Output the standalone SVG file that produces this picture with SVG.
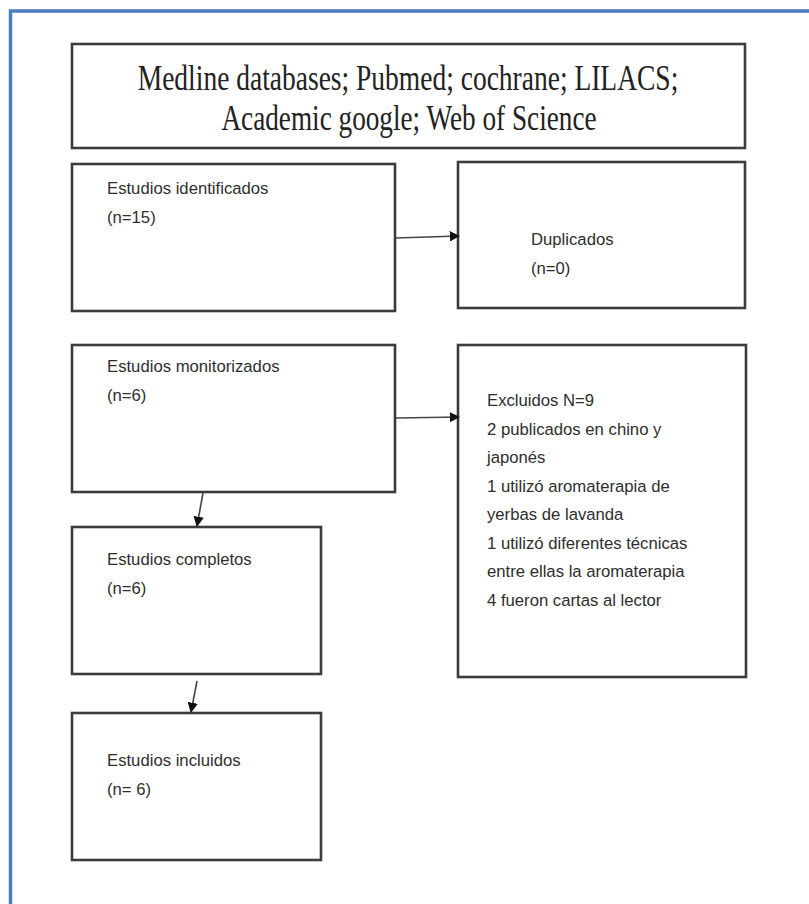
<svg xmlns="http://www.w3.org/2000/svg" width="809" height="904" viewBox="0 0 809 904">
<defs>
<style>
.frame{fill:none;stroke:#4a7ebf;stroke-width:3.5}
.box{fill:#fff;stroke:#3c3c3c;stroke-width:2.6}
.t{font-family:"Liberation Sans",Arial,sans-serif;font-size:16.7px;fill:#2e2e2e}
.h{font-family:"Liberation Serif","Times New Roman",serif;font-size:27.5px;fill:#222}
.c{fill:none;stroke:#444;stroke-width:1.6}
</style>
<marker id="ah" viewBox="0 0 10 10" refX="9" refY="5" markerWidth="6.5" markerHeight="6.5" orient="auto" markerUnits="strokeWidth">
<path d="M0,0 L10,5 L0,10 z" fill="#111"/>
</marker>
</defs>
<rect width="809" height="904" fill="#fff"/>
<rect class="frame" x="10.5" y="11" width="820" height="920"/>
<g id="sources">
<rect class="box" x="72" y="44" width="673" height="104"/>
<text class="h" text-anchor="middle" transform="translate(408,90) scale(1,1.28)">Medline databases; Pubmed; cochrane; LILACS;</text>
<text class="h" text-anchor="middle" transform="translate(409,130) scale(0.99,1.28)">Academic google; Web of Science</text>
</g>
<g id="identificados">
<rect class="box" x="72" y="164" width="323" height="147"/>
<text class="t" x="107" y="194">Estudios identificados</text>
<text class="t" x="107" y="223">(n=15)</text>
</g>
<g id="duplicados">
<rect class="box" x="458" y="162" width="287" height="146"/>
<text class="t" x="531" y="245">Duplicados</text>
<text class="t" x="531" y="274">(n=0)</text>
</g>
<g id="monitorizados">
<rect class="box" x="72" y="345" width="323" height="147"/>
<text class="t" x="107" y="372">Estudios monitorizados</text>
<text class="t" x="107" y="401">(n=6)</text>
</g>
<g id="excluidos">
<rect class="box" x="458" y="345" width="288" height="332"/>
<text class="t" x="487" y="406">Excluidos N=9</text>
<text class="t" x="487" y="435">2 publicados en chino y</text>
<text class="t" x="487" y="463">japonés</text>
<text class="t" x="487" y="492">1 utilizó aromaterapia de</text>
<text class="t" x="487" y="520">yerbas de lavanda</text>
<text class="t" x="487" y="549">1 utilizó diferentes técnicas</text>
<text class="t" x="487" y="577">entre ellas la aromaterapia</text>
<text class="t" x="487" y="606">4 fueron cartas al lector</text>
</g>
<g id="completos">
<rect class="box" x="72" y="527" width="249" height="147"/>
<text class="t" x="107" y="565">Estudios completos</text>
<text class="t" x="107" y="594">(n=6)</text>
</g>
<g id="incluidos">
<rect class="box" x="72" y="713" width="249" height="147"/>
<text class="t" x="107" y="766">Estudios incluidos</text>
<text class="t" x="107" y="795">(n= 6)</text>
</g>
<g id="connectors">
<line class="c" x1="396" y1="238" x2="459" y2="236" marker-end="url(#ah)"/>
<line class="c" x1="396" y1="418" x2="459" y2="417" marker-end="url(#ah)"/>
<line class="c" x1="203" y1="493" x2="197" y2="526" marker-end="url(#ah)"/>
<line class="c" x1="197" y1="681" x2="191" y2="712" marker-end="url(#ah)"/>
</g>
</svg>
